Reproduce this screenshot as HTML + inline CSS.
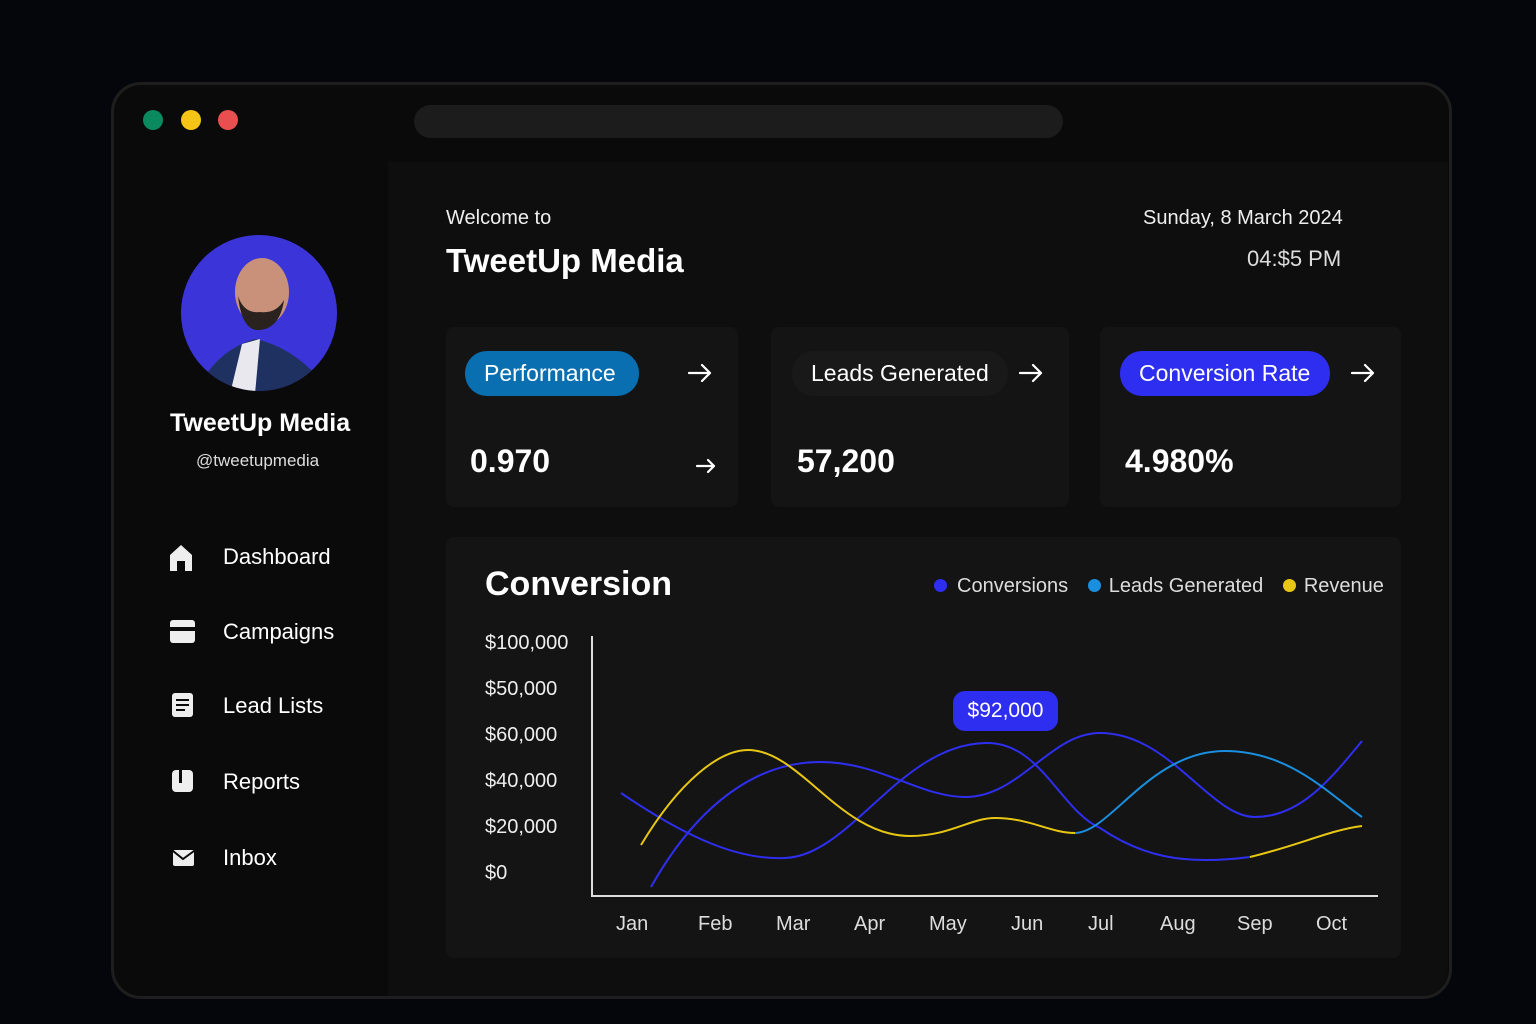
<!DOCTYPE html>
<html><head><meta charset="utf-8"><style>
*{margin:0;padding:0;box-sizing:border-box}
body{width:1536px;height:1024px;background:#05060b;position:relative;overflow:hidden;font-family:"Liberation Sans",sans-serif;color:#fff}
.abs{position:absolute}
.win{left:111px;top:82px;width:1341px;height:917px;border-radius:30px;background:#0a0a0a;border:3px solid #1e1e1e}
.main{left:388px;top:162px;width:1060px;height:834px;background:#0e0e0e;border-bottom-right-radius:27px}
.dot{width:20px;height:20px;border-radius:50%;top:110px}
.card{background:#141414;border-radius:8px}
.pill{border-radius:22px;height:45px;font-size:23px;line-height:45px;padding:0 19px}
.nav{left:223px;font-size:22px}
.big{font-size:32px;font-weight:bold}
.yl{left:485px;font-size:20px;color:#eee}
.xl{top:913px;font-size:20px;color:#ddd}
.arr{font-size:30px;font-weight:300}
</style></head><body>
<div class="abs win"></div>
<div class="abs main"></div>
<div class="abs dot" style="left:143px;background:#0a8a5e"></div>
<div class="abs dot" style="left:181px;background:#f6c417"></div>
<div class="abs dot" style="left:218px;background:#ea4f4f"></div>
<div class="abs" style="left:414px;top:105px;width:649px;height:33px;border-radius:17px;background:#1c1c1c"></div>

<svg class="abs" style="left:180px;top:234px" width="158" height="158">
<defs><clipPath id="c"><circle cx="79" cy="79" r="78"/></clipPath></defs>
<circle cx="79" cy="79" r="78" fill="#3b35d9"/>
<g clip-path="url(#c)">
<path d="M20 150 Q40 115 75 105 Q110 112 140 145 L140 160 L20 160Z" fill="#1f3160"/>
<path d="M62 110 L80 105 L75 160 L50 160Z" fill="#e8e8ee"/>
<ellipse cx="82" cy="58" rx="27" ry="34" fill="#c9917a"/>
<path d="M58 62 Q62 98 80 96 Q100 94 104 66 Q96 80 80 78 Q64 80 58 62Z" fill="#2a221f"/>
</g></svg>
<div class="abs" style="left:170px;top:409px;font-size:25px;font-weight:bold">TweetUp Media</div>
<div class="abs" style="left:196px;top:451px;font-size:17px;color:#ddd">@tweetupmedia</div>

<svg class="abs" style="left:168px;top:543px" width="30" height="340" fill="#eee">
<path d="M2 12 L13 2 L24 12 L24 28 L17 28 L17 18 L9 18 L9 28 L2 28Z"/>
<rect x="2" y="77" width="25" height="23" rx="3"/><rect x="2" y="84" width="25" height="4" fill="#0a0a0a"/>
<rect x="4" y="150" width="21" height="24" rx="3"/><rect x="8" y="156" width="13" height="2" fill="#0a0a0a"/><rect x="8" y="161" width="13" height="2" fill="#0a0a0a"/><rect x="8" y="166" width="9" height="2" fill="#0a0a0a"/>
<rect x="4" y="227" width="21" height="22" rx="4"/><rect x="11" y="226" width="3" height="14" fill="#0a0a0a"/>
<rect x="5" y="307" width="21" height="16" rx="2"/><path d="M5 308 L15 316 L26 308" stroke="#0a0a0a" stroke-width="2" fill="none"/>
</svg>
<div class="abs nav" style="top:544px">Dashboard</div>
<div class="abs nav" style="top:619px">Campaigns</div>
<div class="abs nav" style="top:693px">Lead Lists</div>
<div class="abs nav" style="top:769px">Reports</div>
<div class="abs nav" style="top:845px">Inbox</div>

<div class="abs" style="left:446px;top:207px;font-size:20px;color:#eee">Welcome to</div>
<div class="abs" style="left:446px;top:242px;font-size:33px;font-weight:bold">TweetUp Media</div>
<div class="abs" style="left:1143px;top:207px;font-size:20px;color:#eee">Sunday, 8 March 2024</div>
<div class="abs" style="left:1247px;top:246px;font-size:22px;color:#ddd">04:$5 PM</div>

<div class="abs card" style="left:446px;top:327px;width:292px;height:180px"></div>
<div class="abs card" style="left:771px;top:327px;width:298px;height:180px"></div>
<div class="abs card" style="left:1100px;top:327px;width:301px;height:180px"></div>
<div class="abs pill" style="left:465px;top:351px;background:#0a6fb0;width:174px">Performance</div>
<div class="abs pill" style="left:792px;top:351px;background:#191919">Leads Generated</div>
<div class="abs pill" style="left:1120px;top:351px;background:#2e2ef0;width:210px">Conversion Rate</div>
<svg class="abs" style="left:0;top:0" width="1536" height="600" fill="none" stroke="#fff" stroke-width="2.2" stroke-linecap="round" stroke-linejoin="round">
<path d="M689 373 H710 M702 365 L710 373 L702 381"/>
<path d="M1020 373 H1041 M1033 365 L1041 373 L1033 381"/>
<path d="M1352 373 H1373 M1365 365 L1373 373 L1365 381"/>
<path d="M697 466 H714 M708 460 L714 466 L708 472"/>
</svg>
<div class="abs big" style="left:470px;top:443px">0.970</div>
<div class="abs big" style="left:797px;top:443px">57,200</div>
<div class="abs big" style="left:1125px;top:443px">4.980%</div>

<div class="abs card" style="left:446px;top:537px;width:955px;height:421px"></div>
<div class="abs" style="left:485px;top:565px;font-size:34px;font-weight:bold">Conversion</div>
<div class="abs" style="left:934px;top:575px;font-size:20px;color:#ddd;white-space:nowrap">
<span style="display:inline-block;width:13px;height:13px;border-radius:50%;background:#2e2ef0;margin-right:10px"></span>Conversions
<span style="display:inline-block;width:13px;height:13px;border-radius:50%;background:#1a8fe0;margin:0 8px 0 14px"></span>Leads Generated
<span style="display:inline-block;width:13px;height:13px;border-radius:50%;background:#e8c714;margin:0 8px 0 14px"></span>Revenue</div>
<div class="abs yl" style="top:632px">$100,000</div>
<div class="abs yl" style="top:678px">$50,000</div>
<div class="abs yl" style="top:724px">$60,000</div>
<div class="abs yl" style="top:770px">$40,000</div>
<div class="abs yl" style="top:816px">$20,000</div>
<div class="abs yl" style="top:862px">$0</div>
<div class="abs xl" style="left:616px">Jan</div>
<div class="abs xl" style="left:698px">Feb</div>
<div class="abs xl" style="left:776px">Mar</div>
<div class="abs xl" style="left:854px">Apr</div>
<div class="abs xl" style="left:929px">May</div>
<div class="abs xl" style="left:1011px">Jun</div>
<div class="abs xl" style="left:1088px">Jul</div>
<div class="abs xl" style="left:1160px">Aug</div>
<div class="abs xl" style="left:1237px">Sep</div>
<div class="abs xl" style="left:1316px">Oct</div>

<svg class="abs" style="left:0;top:0" width="1536" height="1024" fill="none" stroke-width="2">
<path d="M592 636 V896 H1378" stroke="#ddd" stroke-width="2"/>
<path d="M621 793 C690 840 740 860 785 858 C850 856 900 745 985 743 C1040 741 1060 810 1100 828 C1140 855 1180 866 1250 857" stroke="#2e2ef0"/>
<path d="M1250 857 C1300 845 1330 830 1362 826" stroke="#e8c714"/>
<path d="M651 887 C700 800 760 762 820 762 C880 762 920 797 965 797 C1020 797 1050 733 1100 733 C1170 733 1210 817 1255 817 C1300 817 1330 780 1362 741" stroke="#2e2ef0"/>
<path d="M641 845 C680 780 720 750 748 750 C800 750 840 836 910 836 C950 836 970 818 995 818 C1030 818 1050 833 1075 833" stroke="#e8c714"/>
<path d="M1075 833 C1110 833 1150 751 1225 751 C1290 751 1330 795 1362 817" stroke="#1a8fe0"/>
</svg>
<div class="abs" style="left:953px;top:691px;width:105px;height:40px;border-radius:12px;background:#2e2ef0;font-size:21px;line-height:40px;text-align:center">$92,000</div>
</body></html>
